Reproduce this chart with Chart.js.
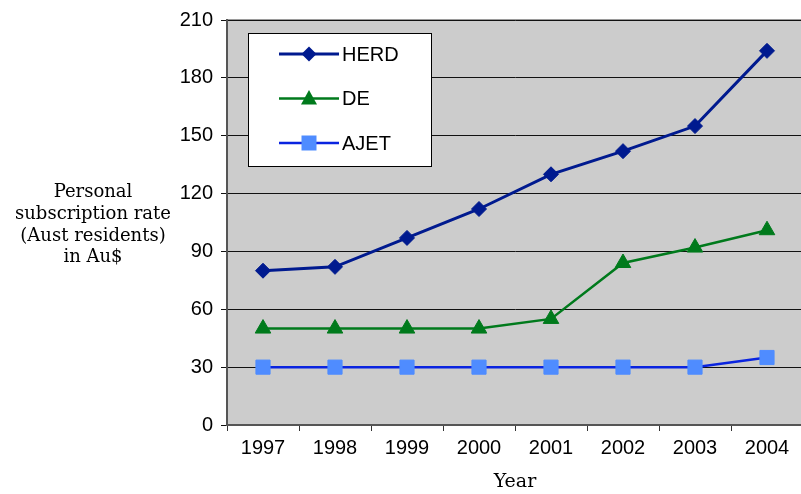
<!DOCTYPE html>
<html>
<head>
<meta charset="utf-8">
<script src="https://cdn.jsdelivr.net/npm/chart.js@4/dist/chart.umd.min.js"></script>
<style>
  html, body { margin: 0; padding: 0; background: #fff; overflow: hidden; }
  #wrap { width: 801px; height: 494px; overflow: hidden; }
</style>
</head>
<body>
<div id="wrap"><canvas id="chart" width="814" height="494"></canvas></div>
<script>
const years = ['1997', '1998', '1999', '2000', '2001', '2002', '2003', '2004'];
const herd = [80, 82, 97, 112, 130, 142, 155, 194];
const de = [50, 50, 50, 50, 55, 84, 92, 101];
const ajet = [30, 30, 30, 30, 30, 30, 30, 35];
const yMin = 0;
const yMax = 210;
const yStep = 30;
const yTitle = ['Personal', 'subscription rate', '(Aust residents)', 'in Au$'];
const xTitle = 'Year';

const sans = '"Liberation Sans", Arial, sans-serif';
const serif = '"DejaVu Serif", "Liberation Serif", serif';

// grey plot background + thin top border
const plotBg = {
  id: 'plotBg',
  beforeDraw(chart) {
    const { ctx, chartArea: a } = chart;
    ctx.save();
    ctx.fillStyle = '#cccccc';
    ctx.fillRect(a.left, a.top, a.right - a.left, a.bottom - a.top);
    ctx.strokeStyle = '#9a9a9a';
    ctx.lineWidth = 2;
    ctx.beginPath();
    ctx.moveTo(a.left, a.top);
    ctx.lineTo(a.right, a.top);
    ctx.stroke();
    ctx.restore();
  },
};

// horizontal y title on the left, like the original
const sideTitle = {
  id: 'sideTitle',
  afterDraw(chart) {
    const ctx = chart.ctx;
    ctx.save();
    ctx.font = '18px ' + serif;
    ctx.fillStyle = '#000';
    ctx.textAlign = 'center';
    ctx.textBaseline = 'alphabetic';
    yTitle.forEach((line, i) => {
      ctx.fillText(line, 93, 197 + i * 21.8);
    });
    ctx.restore();
  },
};

function marker(ctx, style, x, y, color) {
  ctx.fillStyle = color;
  ctx.beginPath();
  if (style === 'rectRot') {
    ctx.moveTo(x, y - 7.5); ctx.lineTo(x + 7.5, y); ctx.lineTo(x, y + 7.5); ctx.lineTo(x - 7.5, y);
  } else if (style === 'triangle') {
    ctx.moveTo(x, y - 8.5); ctx.lineTo(x + 8, y + 6); ctx.lineTo(x - 8, y + 6);
  } else {
    ctx.rect(x - 7.5, y - 7.5, 15, 15);
  }
  ctx.closePath();
  ctx.fill();
}

// boxed legend inside the plot
const boxLegend = {
  id: 'boxLegend',
  afterDraw(chart) {
    const ctx = chart.ctx;
    ctx.save();
    ctx.fillStyle = '#fff';
    ctx.fillRect(248.5, 33.5, 183, 133);
    ctx.strokeStyle = '#000';
    ctx.lineWidth = 1;
    ctx.strokeRect(248.5, 33.5, 183, 133);
    chart.data.datasets.forEach((ds, i) => {
      const y = 54 + i * 44.5;
      ctx.strokeStyle = ds.borderColor;
      ctx.lineWidth = ds.borderWidth;
      ctx.beginPath();
      ctx.moveTo(279, y);
      ctx.lineTo(339, y);
      ctx.stroke();
      marker(ctx, ds.pointStyle, 309, y, ds.pointBackgroundColor);
      ctx.fillStyle = '#000';
      ctx.font = '20px ' + sans;
      ctx.textAlign = 'left';
      ctx.textBaseline = 'middle';
      ctx.fillText(ds.label, 342, y + 1);
    });
    ctx.restore();
  },
};

new Chart(document.getElementById('chart'), {
  type: 'line',
  data: {
    labels: years,
    datasets: [
      {
        label: 'HERD',
        data: herd,
        borderColor: '#001a8f',
        borderWidth: 3,
        pointStyle: 'rectRot',
        pointRadius: 7.5,
        pointBackgroundColor: '#001a8f',
        pointBorderColor: '#001a8f',
        pointBorderWidth: 1,
      },
      {
        label: 'DE',
        data: de,
        borderColor: '#007a1c',
        borderWidth: 2.5,
        pointStyle: 'triangle',
        pointRadius: 9,
        pointBackgroundColor: '#007a1c',
        pointBorderColor: '#007a1c',
        pointBorderWidth: 1,
      },
      {
        label: 'AJET',
        data: ajet,
        borderColor: '#0a24e0',
        borderWidth: 2.5,
        pointStyle: 'rect',
        pointRadius: 10,
        pointBackgroundColor: '#4f8cff',
        pointBorderColor: '#4f8cff',
        pointBorderWidth: 1,
      },
    ],
  },
  options: {
    responsive: false,
    animation: false,
    layout: { padding: { top: 19, right: 0, left: 0, bottom: 0 } },
    plugins: {
      legend: { display: false },
      tooltip: { enabled: false },
    },
    scales: {
      x: {
        offset: true,
        grid: { offset: true, drawOnChartArea: false, tickLength: 6, color: '#333' },
        border: { color: '#555', width: 2 },
        ticks: { color: '#000', font: { family: sans, size: 20 }, padding: 5, maxRotation: 0 },
        title: { display: true, text: xTitle, color: '#000', font: { family: serif, size: 19 }, padding: { top: 0, bottom: 1 } },
        afterFit(scale) { scale.height = 69; },
      },
      y: {
        min: yMin,
        max: yMax,
        ticks: { stepSize: yStep, color: '#000', font: { family: sans, size: 20 }, padding: 8 },
        grid: { color: '#111', lineWidth: 1, tickLength: 6 },
        border: { color: '#555', width: 2 },
        afterFit(scale) { scale.width = 227; },
      },
    },
  },
  plugins: [plotBg, sideTitle, boxLegend],
});
</script>
</body>
</html>
